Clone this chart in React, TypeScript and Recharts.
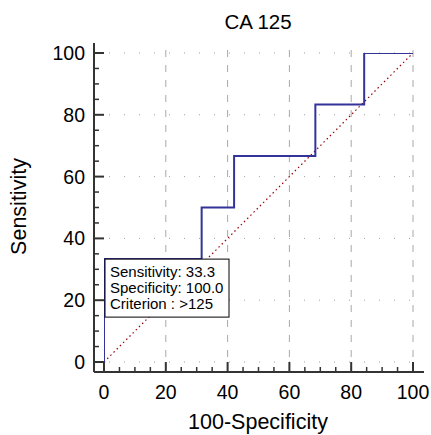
import React from 'react';
import { LineChart, Line, XAxis, YAxis, ReferenceLine, ReferenceDot } from 'recharts';

const rocFpr = [0, 0, 31.6, 42.1, 68.4, 84.2, 100];
const rocSens = [0, 33.3, 50, 66.7, 83.3, 100, 100];
const diagX = [0, 100];
const diagY = [0, 100];
const allTicks = [0, 5, 10, 15, 20, 25, 30, 35, 40, 45, 50, 55, 60, 65, 70, 75, 80, 85, 90, 95, 100];
const verticalGrid = [20, 40, 60, 80, 100];
const horizontalGrid = [0, 20, 40, 60, 80, 100];
const title = 'CA 125';
const xLabel = '100-Specificity';
const yLabel = 'Sensitivity';
const boxAtX = 0;
const boxAtY = 33.3;
const boxLines = ['Sensitivity: 33.3', 'Specificity: 100.0', 'Criterion : >125'];

const rocData = rocFpr.map((x, i) => ({ x, y: rocSens[i] }));
const diagData = diagX.map((x, i) => ({ x, y: diagY[i] }));

const FONT = '"Liberation Sans", Arial, sans-serif';
const AXIS = '#333333';

const XTick = (props: any) => {
  const { x, y, payload } = props;
  const v = payload.value;
  const major = v % 20 === 0;
  return (
    <g>
      <line x1={x} x2={x} y1={y} y2={y - (major ? 10 : 5)} stroke={AXIS} strokeWidth={major ? 2 : 1.5} />
      {major && (
        <text x={x} y={y + 27} textAnchor="middle" fontSize={19.5} fontFamily={FONT} fill="#000">
          {v}
        </text>
      )}
    </g>
  );
};

const YTick = (props: any) => {
  const { x, y, payload } = props;
  const v = payload.value;
  const major = v % 20 === 0;
  return (
    <g>
      <line x1={x} x2={x + (major ? 10 : 5)} y1={y} y2={y} stroke={AXIS} strokeWidth={major ? 2 : 1.5} />
      {major && (
        <text x={x - 9} y={y + 7} textAnchor="end" fontSize={19.5} fontFamily={FONT} fill="#000">
          {v}
        </text>
      )}
    </g>
  );
};

const XLabel = (props: any) => {
  const vb = props.viewBox;
  return (
    <text x={vb.x + vb.width / 2 - 1} y={vb.y + 57} textAnchor="middle" fontSize={21.5} fontFamily={FONT} fill="#000">
      {xLabel}
    </text>
  );
};

const YLabel = (props: any) => {
  const vb = props.viewBox;
  const cy = vb.y + vb.height / 2 - 1;
  const bx = 26;
  return (
    <text x={bx} y={cy} transform={`rotate(-90, ${bx}, ${cy})`} textAnchor="middle" fontSize={21.5} fontFamily={FONT} fill="#000">
      {yLabel}
    </text>
  );
};

const InfoBox = (props: any) => {
  const { cx, cy } = props;
  if (cx == null || cy == null) return null;
  return (
    <g>
      <rect x={cx + 1} y={cy} width={124} height={58} fill="#fff" stroke="#000" strokeWidth={1} />
      {boxLines.map((t, i) => (
        <text key={i} x={cx + 6} y={cy + 18 + i * 16} fontSize={15} fontFamily={FONT} fill="#000">
          {t}
        </text>
      ))}
    </g>
  );
};

export default function App() {
  return (
    <div style={{ position: 'absolute', left: 0, top: 0, width: 431, height: 435, background: '#fff' }}>
      <div
        style={{
          position: 'absolute',
          left: 94,
          width: 328,
          top: 12,
          textAlign: 'center',
          fontSize: 20.5,
          lineHeight: '20px',
          fontFamily: FONT,
          color: '#000',
        }}
      >
        {title}
      </div>
      <LineChart width={431} height={435} margin={{ top: 43, right: 7, bottom: 0, left: 0 }}>
        <XAxis
          type="number"
          dataKey="x"
          domain={[0, 100]}
          ticks={allTicks}
          interval={0}
          padding={{ left: 10, right: 11 }}
          height={63}
          tickSize={0}
          tickMargin={0}
          tickLine={false}
          axisLine={{ stroke: AXIS, strokeWidth: 2 }}
          tick={<XTick />}
          label={<XLabel />}
          allowDataOverflow
        />
        <YAxis
          type="number"
          dataKey="y"
          domain={[0, 100]}
          ticks={allTicks}
          interval={0}
          padding={{ top: 10, bottom: 10 }}
          width={94}
          tickSize={0}
          tickMargin={0}
          tickLine={false}
          axisLine={{ stroke: AXIS, strokeWidth: 2 }}
          tick={<YTick />}
          label={<YLabel />}
          allowDataOverflow
        />
        {horizontalGrid.map((v) => (
          <ReferenceLine key={'h' + v} y={v} stroke="#a0a0a0" strokeDasharray="1 14" />
        ))}
        {verticalGrid.map((v) => (
          <ReferenceLine key={'v' + v} x={v} stroke="#a8a8a8" strokeDasharray="7 8" />
        ))}
        <Line
          data={diagData}
          dataKey="y"
          type="linear"
          stroke="#990000"
          strokeWidth={1.2}
          strokeDasharray="1.5 3"
          dot={false}
          activeDot={false}
          isAnimationActive={false}
        />
        <Line
          data={rocData}
          dataKey="y"
          type="stepAfter"
          stroke="#333399"
          strokeWidth={2}
          dot={false}
          activeDot={false}
          isAnimationActive={false}
        />
        <ReferenceDot x={boxAtX} y={boxAtY} r={0} shape={<InfoBox />} />
      </LineChart>
    </div>
  );
}
